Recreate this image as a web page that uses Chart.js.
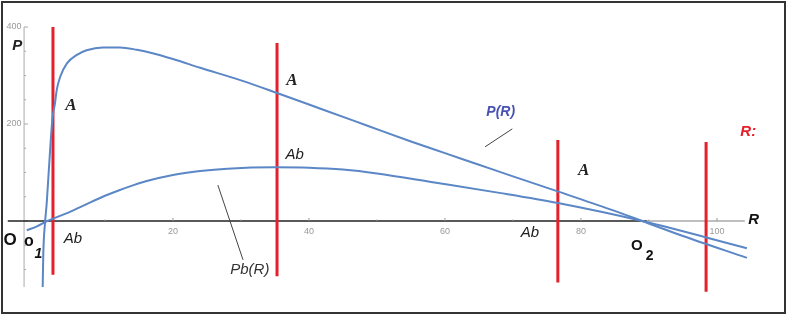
<!DOCTYPE html>
<html>
<head>
<meta charset="utf-8">
<script src="https://cdn.jsdelivr.net/npm/chart.js@4"></script>
<style>
    html, body { margin: 0; padding: 0; background: #fff; }
    #wrap { width: 787px; height: 315px; position: relative; }
</style>
</head>
<body>
<div id="wrap"><canvas id="chart"></canvas></div>
<script>
// P(R) and Pb(R) curves

const pR = [0.84, 0.93, 1.18, 1.43, 1.9, 2.25, 2.65, 2.9, 3.4, 4.4, 5.8, 7.3, 9.7, 12.2, 14.7, 17, 20, 24, 30, 35.3, 42, 48.5, 55, 60, 65, 70, 76.8, 84.3, 89, 95, 104.4];
const pValues = [-136, -66, -4, 37, 140, 208, 243, 270, 297, 325, 342, 352, 358, 358, 353, 346, 334, 316, 290, 264, 230, 197, 164, 140, 116, 92, 60, 24, 0, -31, -76];

const pbR = [-1.5, 0, 1.5, 2.4, 5, 7.3, 10, 12, 14, 16, 20, 24, 28, 35, 40, 45, 50, 58.2, 68, 76.6, 89, 104.4];
const pbValues = [-19, -11, 0, 5, 20, 35, 52, 63, 73, 82, 95, 103, 108, 111, 110, 106, 98, 80, 58, 37, 0, -56];

// red vertical markers
const markerR = [2.35, 35.3, 76.6, 98.4];
const markerTop = [400, 367, 167, 163];
const markerBottom = [-111, -114, -127, -146];

// leader lines for the curve names
const leaderP = [[65.9, 153], [69.9, 190]];
const leaderPb = [[26.6, 74], [30.3, -80]];

// tick labels
const xTicks = [20, 40, 60, 80, 100];
const yTicks = [200, 400];

function toPoints(xs, ys) {
    return xs.map((x, i) => ({ x: x, y: ys[i] }));
}

const datasets = [
    {
        data: toPoints(pR, pValues),
        borderColor: '#5b87c6',
        borderWidth: 2,
        cubicInterpolationMode: 'monotone'
    },
    {
        data: toPoints(pbR, pbValues),
        borderColor: '#5b87c6',
        borderWidth: 2,
        cubicInterpolationMode: 'monotone'
    }
];

markerR.forEach((r, i) => {
    datasets.push({
        data: [{ x: r, y: markerTop[i] }, { x: r, y: markerBottom[i] }],
        borderColor: '#e3202b',
        borderWidth: 3
    });
});

[leaderP, leaderPb].forEach(l => {
    datasets.push({
        data: l.map(p => ({ x: p[0], y: p[1] })),
        borderColor: '#444',
        borderWidth: 1
    });
});

// text labels, placed in data units
const labels = [
    { text: 'P', r: -2.9, p: 361, font: 'bold italic 15px "Liberation Sans"', color: '#222' },
    { text: 'A', r: 5.0, p: 237, font: 'bold italic 17px "Liberation Serif"', color: '#222' },
    { text: 'A', r: 37.5, p: 289, font: 'bold italic 17px "Liberation Serif"', color: '#222' },
    { text: 'A', r: 80.4, p: 103, font: 'bold italic 17px "Liberation Serif"', color: '#222' },
    { text: 'Ab', r: 5.3, p: -37, font: 'italic 15px "Liberation Sans"', color: '#222' },
    { text: 'Ab', r: 37.9, p: 136, font: 'italic 15px "Liberation Sans"', color: '#222' },
    { text: 'Ab', r: 72.5, p: -25, font: 'italic 15px "Liberation Sans"', color: '#222' },
    { text: 'O', r: -3.97, p: -39, font: 'bold 17px "Liberation Sans"', color: '#111' },
    { text: 'o', r: -1.2, p: -43, font: 'bold 16px "Liberation Sans"', color: '#111' },
    { text: '1', r: 0.2, p: -68, font: 'bold italic 14px "Liberation Sans"', color: '#111' },
    { text: 'O', r: 88.2, p: -52, font: 'bold 15px "Liberation Sans"', color: '#111' },
    { text: '2', r: 90.1, p: -72, font: 'bold 14px "Liberation Sans"', color: '#111' },
    { text: 'P(R)', r: 68.2, p: 225, font: 'bold italic 14px "Liberation Sans"', color: '#4752b3' },
    { text: 'R:', r: 104.6, p: 184, font: 'bold italic 15px "Liberation Sans"', color: '#e3202b' },
    { text: 'R', r: 105.4, p: 2, font: 'bold italic 15px "Liberation Sans"', color: '#111' },
    { text: 'Pb(R)', r: 31.3, p: -101, font: 'italic 15px "Liberation Sans"', color: '#333' }
];

const axesPlugin = {
    id: 'axes',
    beforeDatasetsDraw(chart) {
        const ctx = chart.ctx;
        const x = chart.scales.x;
        const y = chart.scales.y;
        const y0 = y.getPixelForValue(0);
        const yAxisX = x.getPixelForValue(-1.9);

        ctx.save();
        // y axis
        ctx.strokeStyle = '#aaa';
        ctx.lineWidth = 1;
        ctx.beginPath();
        ctx.moveTo(yAxisX, y.getPixelForValue(400));
        ctx.lineTo(yAxisX, y.getPixelForValue(-136));
        ctx.stroke();
        for (let v = -100; v <= 400; v += 50) {
            const py = y.getPixelForValue(v);
            ctx.beginPath();
            ctx.moveTo(yAxisX, py);
            ctx.lineTo(yAxisX + (v % 200 === 0 ? 4 : 2), py);
            ctx.stroke();
        }
        ctx.fillStyle = '#999';
        ctx.font = '9px "Liberation Sans"';
        ctx.textAlign = 'center';
        ctx.textBaseline = 'middle';
        yTicks.forEach(v => {
            ctx.fillText(String(v), yAxisX - 10, y.getPixelForValue(v));
        });

        // x axis: black part then grey part
        ctx.lineWidth = 1.5;
        ctx.strokeStyle = '#222';
        ctx.beginPath();
        ctx.moveTo(x.getPixelForValue(-4.3), y0);
        ctx.lineTo(x.getPixelForValue(89.7), y0);
        ctx.stroke();
        ctx.strokeStyle = '#aaa';
        ctx.beginPath();
        ctx.moveTo(x.getPixelForValue(89.7), y0);
        ctx.lineTo(x.getPixelForValue(104.1), y0);
        ctx.stroke();

        ctx.lineWidth = 1;
        ctx.strokeStyle = '#999';
        for (let v = 10; v <= 100; v += 10) {
            const px = x.getPixelForValue(v);
            ctx.beginPath();
            ctx.moveTo(px, y0);
            ctx.lineTo(px, y0 - (v % 20 === 0 ? 3 : 1.5));
            ctx.stroke();
        }
        xTicks.forEach(v => {
            ctx.fillText(String(v), x.getPixelForValue(v), y0 + 11);
        });
        ctx.restore();
    },
    afterDraw(chart) {
        const ctx = chart.ctx;
        const x = chart.scales.x;
        const y = chart.scales.y;
        ctx.save();
        ctx.textAlign = 'center';
        ctx.textBaseline = 'middle';
        labels.forEach(l => {
            ctx.font = l.font;
            ctx.fillStyle = l.color;
            ctx.fillText(l.text, x.getPixelForValue(l.r), y.getPixelForValue(l.p));
        });
        // frame
        ctx.strokeStyle = '#333';
        ctx.lineWidth = 2;
        ctx.strokeRect(2, 2, chart.width - 4, chart.height - 4);
        ctx.restore();
    }
};

new Chart(document.getElementById('chart'), {
    type: 'line',
    data: { datasets: datasets },
    options: {
        responsive: true,
        maintainAspectRatio: false,
        animation: false,
        devicePixelRatio: 1,
        layout: { padding: 0 },
        elements: { point: { radius: 0 } },
        plugins: {
            legend: { display: false },
            tooltip: { enabled: false }
        },
        scales: {
            x: { type: 'linear', min: -5.44, max: 110.3, display: false },
            y: { type: 'linear', min: -193.8, max: 455.7, display: false }
        }
    },
    plugins: [axesPlugin]
});
</script>
</body>
</html>
